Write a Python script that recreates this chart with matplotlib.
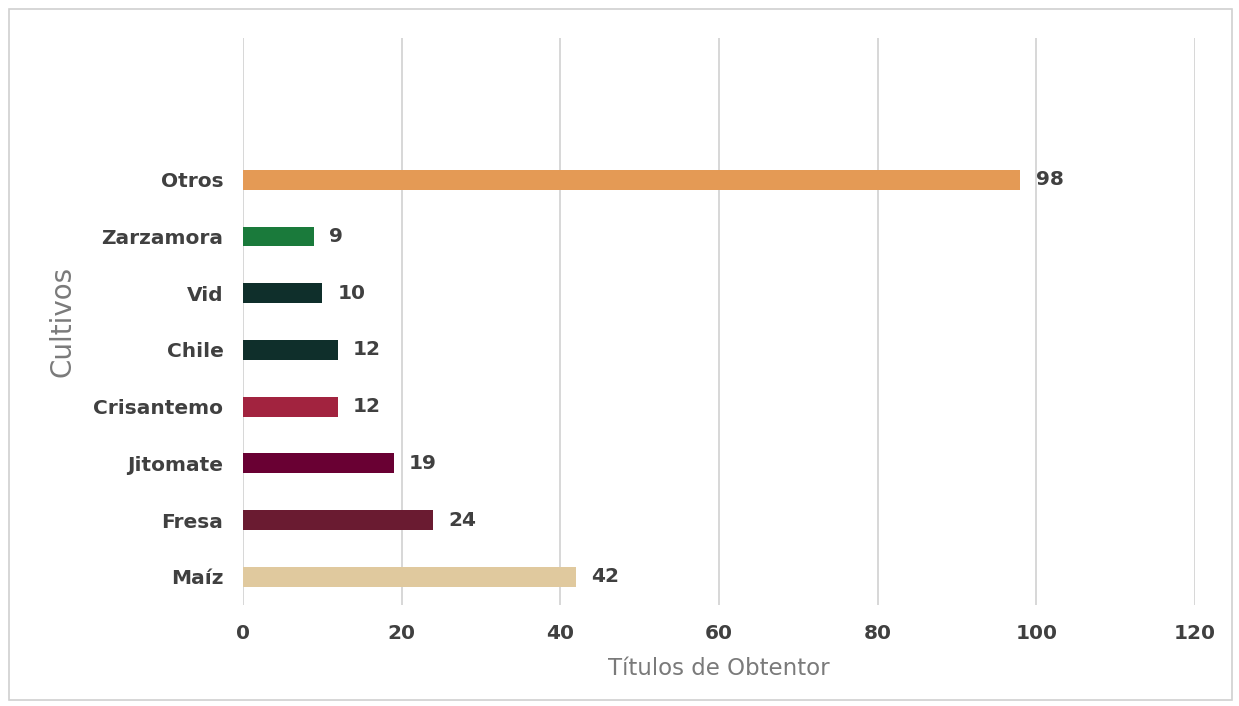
import matplotlib.pyplot as plt
from matplotlib.patches import Rectangle

# Datos
cultivos = ["Maíz", "Fresa", "Jitomate", "Crisantemo", "Chile", "Vid", "Zarzamora", "Otros"]
titulos = [42, 24, 19, 12, 12, 10, 9, 98]
colores = ["#E0C99E", "#6A1B31", "#690033", "#A2233F", "#0F2F2B", "#0F2F2B", "#1A7A3B", "#E49A55"]
xticks = [0, 20, 40, 60, 80, 100, 120]

fig = plt.figure(figsize=(12.39, 7.06), dpi=100)
ax = fig.add_axes([0.196, 0.143, 0.7685, 0.803])

# Marco gris alrededor de la figura
fig.patches.append(Rectangle((9 / 1239, 6 / 706), 1223 / 1239, 691 / 706,
                             transform=fig.transFigure, fill=False,
                             edgecolor="#d0d0d0", linewidth=1.2))

pos = list(range(len(cultivos)))
ax.barh(pos, titulos, height=0.35, color=colores, zorder=3)

for p, v in zip(pos, titulos):
    ax.text(v + 1.9, p, str(v), va="center", ha="left", fontsize=14.5,
            fontweight="bold", color="#404040")

ax.set_xlim(0, 120)
ax.set_ylim(-0.5, 9.5)
ax.set_xticks(xticks)
ax.set_yticks(pos)
ax.set_yticklabels(cultivos)
ax.tick_params(axis="both", length=0, labelsize=14.5, labelcolor="#404040")
ax.tick_params(axis="x", pad=14)
ax.tick_params(axis="y", pad=14)
for lbl in ax.get_xticklabels() + ax.get_yticklabels():
    lbl.set_fontweight("bold")

ax.grid(axis="x", color="#d4d4d4", linewidth=1.3, zorder=0)
for s in ax.spines.values():
    s.set_visible(False)

ax.set_xlabel("Títulos de Obtentor", fontsize=16.5, color="#7a7a7a", labelpad=10)
ax.set_ylabel("Cultivos", fontsize=20, color="#7a7a7a", labelpad=12)

fig.savefig("out.png", dpi=100)
